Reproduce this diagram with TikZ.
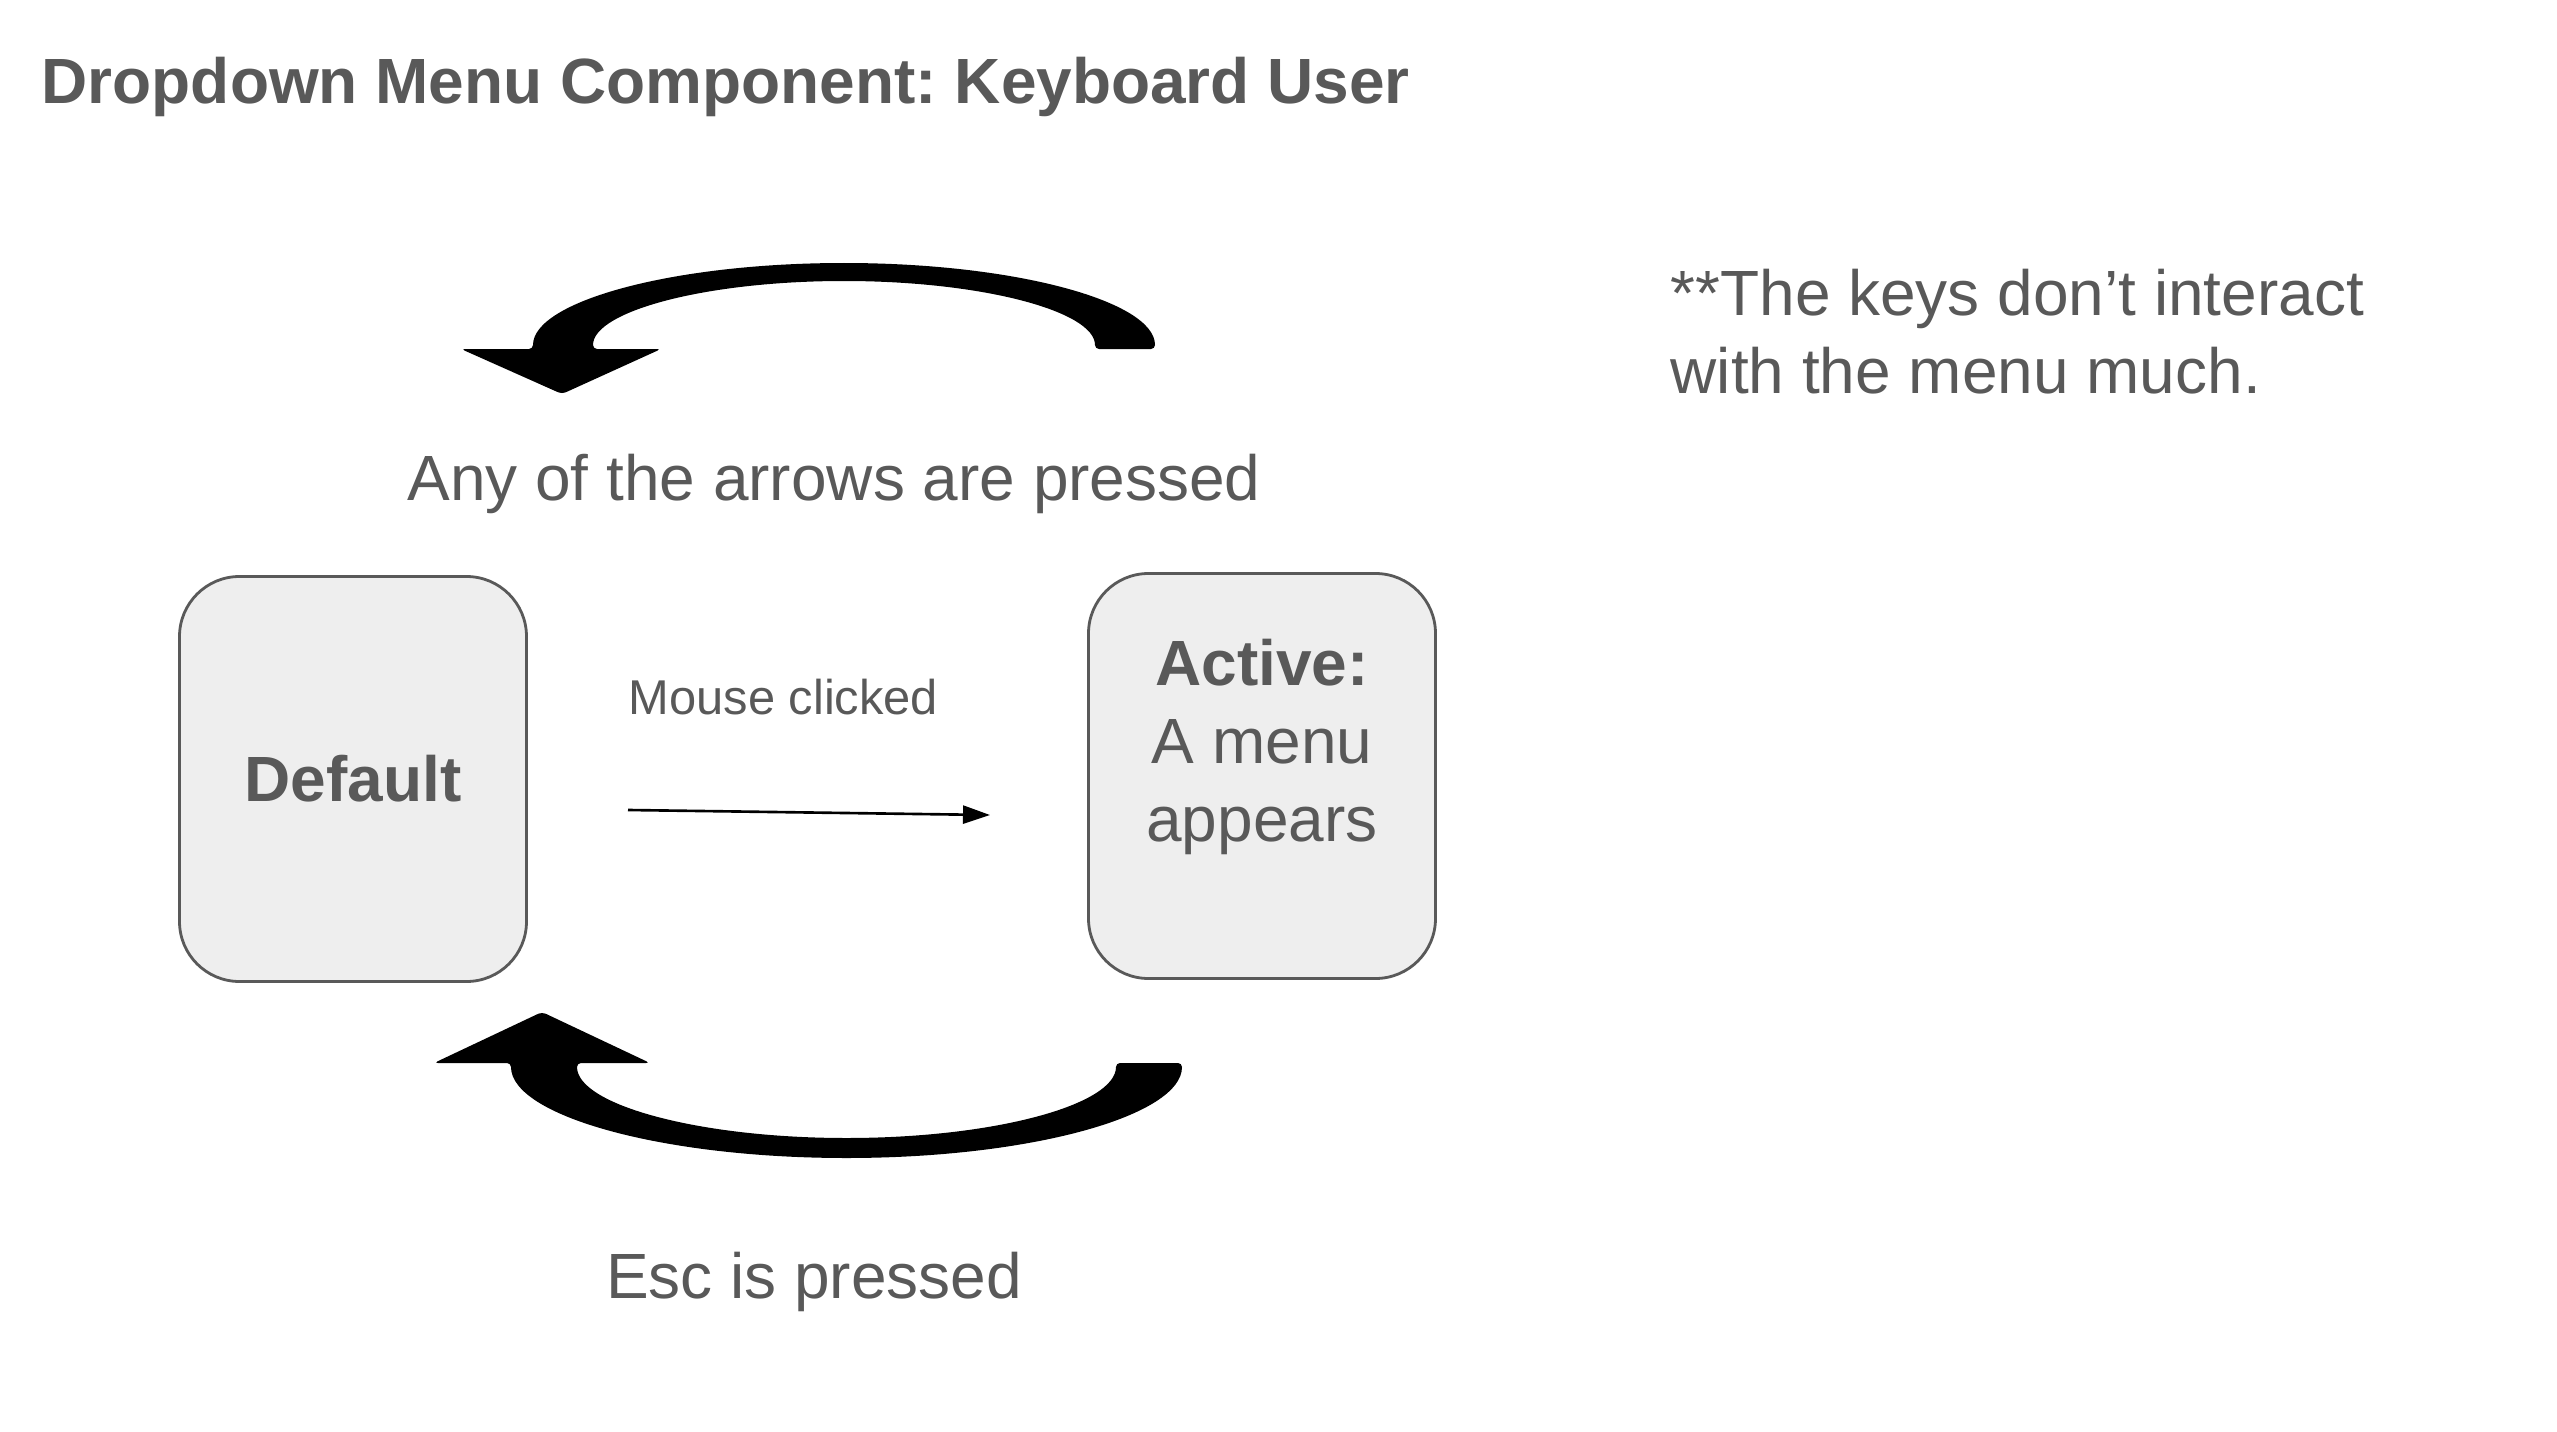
\documentclass[tikz,border=0pt]{standalone}
\usepackage{fontspec}
\setmainfont{Liberation Sans}
\usepackage{xcolor}
\usepackage{tikz}
\usetikzlibrary{arrows.meta, positioning, calc}
\frenchspacing
\definecolor{textgray}{HTML}{595959}
\definecolor{boxfill}{HTML}{EEEEEE}
\tikzset{
  lbl/.style={text=textgray, inner sep=0pt, font=\fontsize{18.2}{22.2}\selectfont},
  boldlbl/.style={lbl, font=\fontsize{18.2}{22.2}\selectfont\bfseries},
  smalllbl/.style={text=textgray, inner sep=0pt, font=\fontsize{13.9}{16.7}\selectfont},
  state/.style={draw=textgray, fill=boxfill, rounded corners=0.6cm, minimum width=3.47cm, minimum height=4.05cm, line width=0.8pt, inner sep=0pt},
  link/.style={-{Triangle[length=2.7mm, width=1.8mm]}, line width=0.75pt},
  bigarrow/.style={fill=black, rounded corners=0.4mm}
}

\begin{document}
\begin{tikzpicture}
        \useasboundingbox (0,0) rectangle (25.57,-14.32);

        % Title
        \node[boldlbl, anchor=base west] (title) at (0.41,-1.04) {Dropdown Menu Component: Keyboard User};

        % States
        \node[state, boldlbl] (default) at (3.53,-7.79) {Default};
        \node[state] (active) at (12.62,-7.76) {};
        \node[lbl, align=center] (activetxt) at (12.62,-7.465) {\textbf{Active:}\\A menu\\appears};

        % Labels
        \node[lbl, anchor=base] (arrowslbl) at (8.34,-5.00) {Any of the arrows are pressed};
        \node[lbl, anchor=base] (esclbl) at (8.14,-12.98) {Esc is pressed};
        \node[smalllbl, anchor=base west] (mouselbl) at (6.28,-7.14) {Mouse clicked};
        \node[lbl, anchor=north west, align=left] (note) at (16.70,-2.68) {**The keys don’t interact\\with the menu much.};

        % Mouse click
        \coordinate (clickfrom) at (6.28,-8.10);
        \coordinate (clickto) at (9.90,-8.15);
        \draw[link] (clickfrom) -- (clickto);

        % Curved arrows
        \coordinate (keyarc) at (8.44,-3.49);
        \fill[bigarrow] ($(keyarc)+(3.11,0)$) arc[start angle=0, end angle=180, x radius=3.11, y radius=0.86]
            -- ++(-0.72,0) -- ($(keyarc)+(-2.82,-0.45)$) -- ($(keyarc)+(-1.83,0)$) -- ($(keyarc)+(-2.51,0)$)
            arc[start angle=180, end angle=0, x radius=2.51, y radius=0.68] -- cycle;

        \coordinate (escarc) at (8.465,-10.63);
        \fill[bigarrow] ($(escarc)+(3.355,0)$) arc[start angle=0, end angle=-180, x radius=3.355, y radius=0.95]
            -- ++(-0.77,0) -- ($(escarc)+(-3.045,0.51)$) -- ($(escarc)+(-1.965,0)$) -- ($(escarc)+(-2.695,0)$)
            arc[start angle=180, end angle=360, x radius=2.695, y radius=0.75] -- cycle;
    \end{tikzpicture}
\end{document}
